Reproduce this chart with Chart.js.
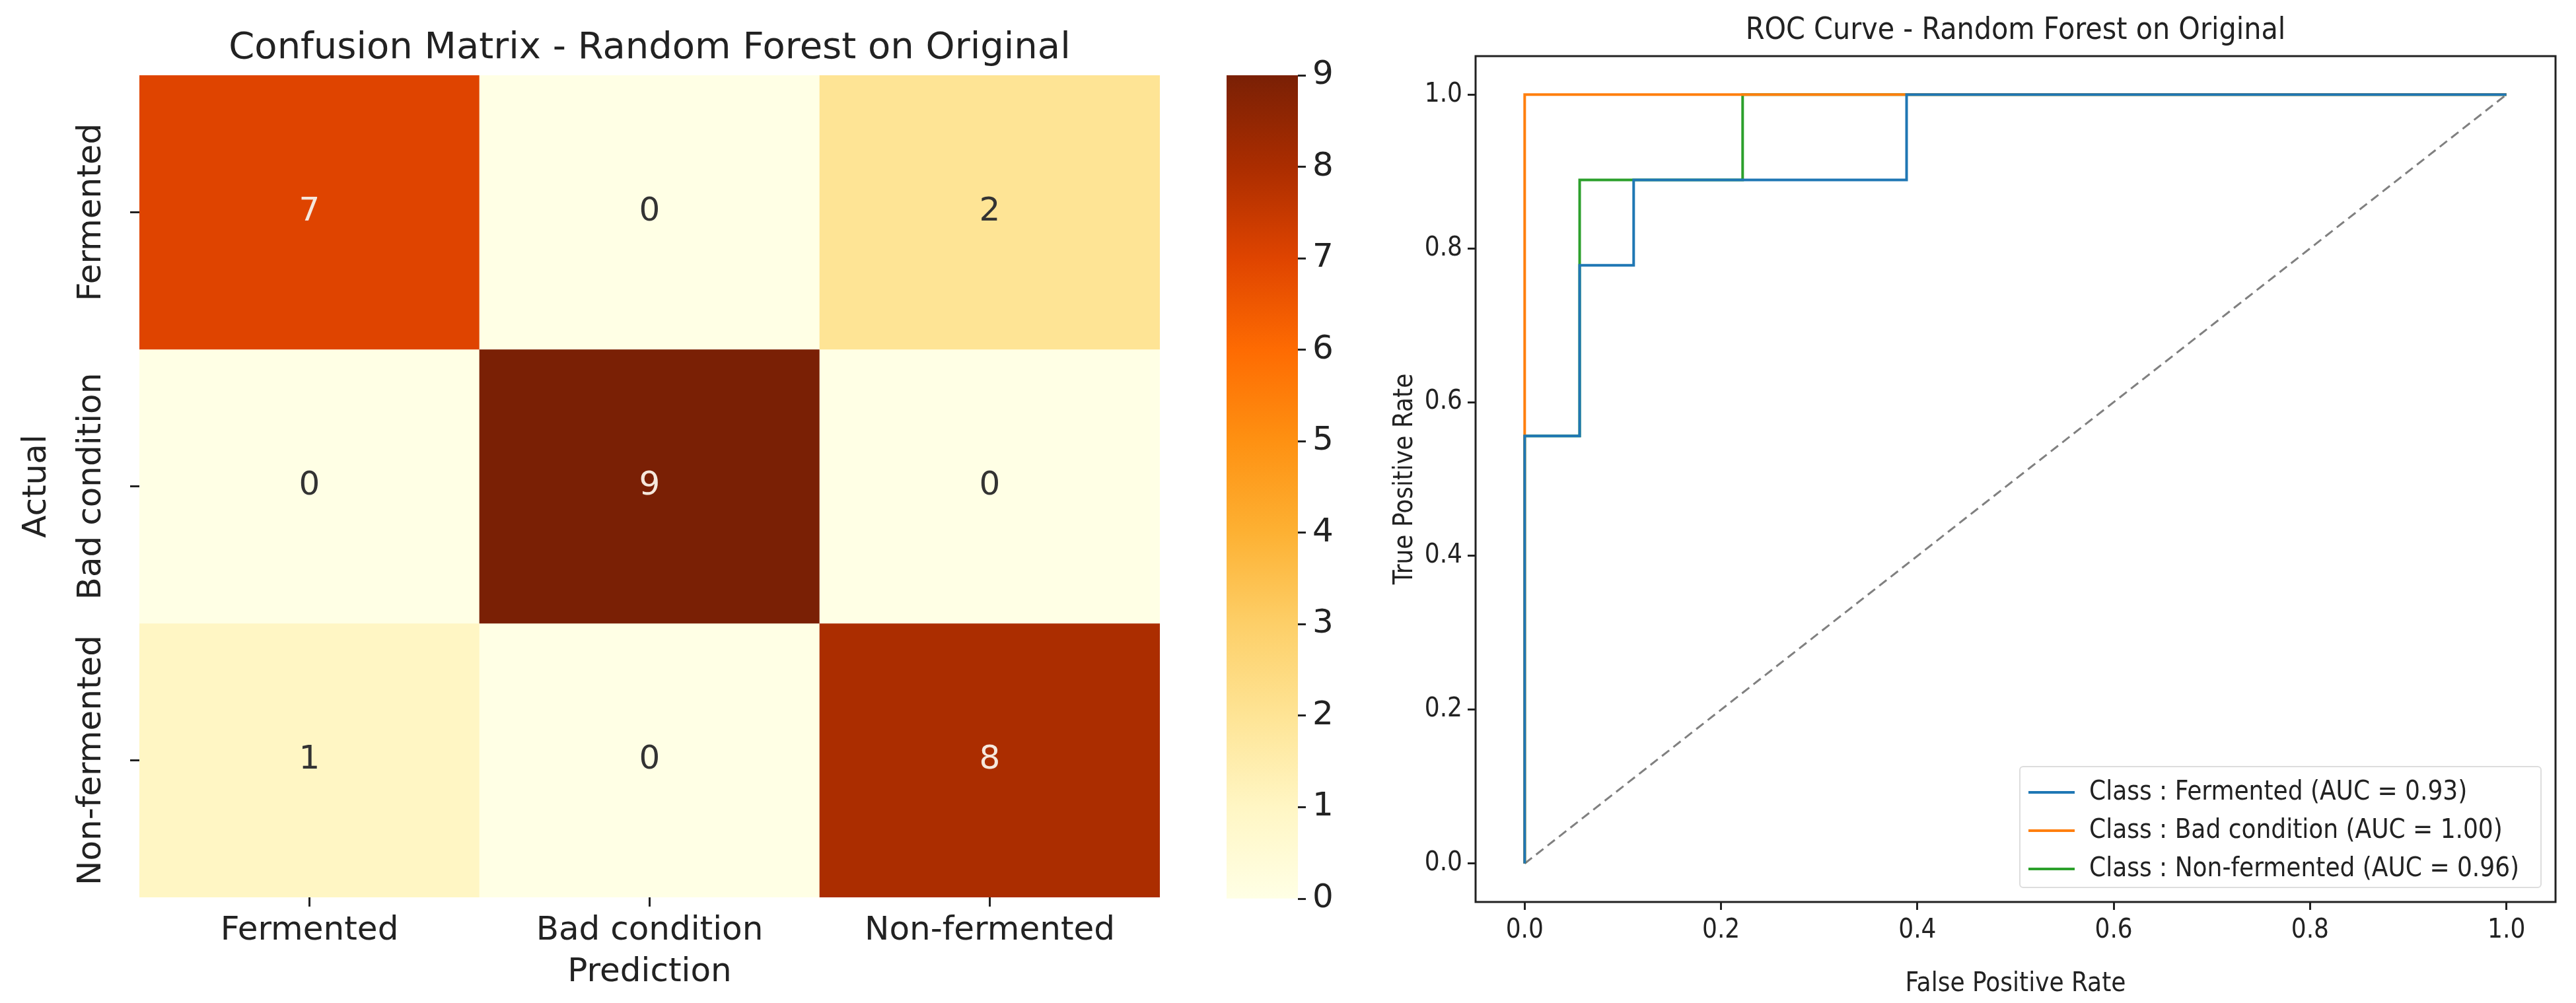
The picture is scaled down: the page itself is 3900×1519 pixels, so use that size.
<!DOCTYPE html>
<html><head><meta charset="utf-8">
<script src="https://cdn.jsdelivr.net/npm/chart.js@4"></script>
<style>
body{margin:0;background:#fff;width:3900px;height:1519px;position:relative;overflow:hidden}
canvas{position:absolute;top:0}
#legend{position:absolute;left:3057px;top:1160px;width:791px;height:185px;border:2px solid #ddd;border-radius:6px;background:rgba(255,255,255,0.9);box-sizing:border-box;font:40px "Liberation Sans Narrow","DejaVu Sans Condensed",sans-serif;color:#222;padding:6px 0 0 12px}
#legend div{height:58px;line-height:58px;white-space:nowrap}
#legend span{display:inline-block;width:70px;height:4px;vertical-align:middle;margin-right:22px}
</style></head><body>
<div id="w1" style="position:absolute;left:0;top:0;width:1800px;height:1519px"><canvas id="hm"></canvas></div>
<div id="w2" style="position:absolute;left:1800px;top:0;width:300px;height:1519px"><canvas id="cb"></canvas></div>
<div id="w3" style="position:absolute;left:2100px;top:0;width:1800px;height:1519px"><canvas id="roc"></canvas></div>
<div id="legend"></div>
<script>
const classLabels = ['Fermented','Bad condition','Non-fermented'];
const confusion = [[7,0,2],[0,9,0],[1,0,8]];
const cbTicks = [0,1,2,3,4,5,6,7,8,9];
const cmapColors = ['#ffffe5','#fff6c4','#fee495','#fdcf68','#fdb133','#fe9112','#fe6b02','#df4400','#ab2d00','#7a2005'];
const rocFermentedX = [0,0,0.056,0.056,0.111,0.111,0.389,0.389,1];
const rocFermentedY = [0,0.556,0.556,0.778,0.778,0.889,0.889,1,1];
const rocBadX = [0,0,1];
const rocBadY = [0,1,1];
const rocNonX = [0,0,0.056,0.056,0.222,0.222,1];
const rocNonY = [0,0.556,0.556,0.889,0.889,1,1];
const rocNames = ['Class : Fermented (AUC = 0.93)','Class : Bad condition (AUC = 1.00)','Class : Non-fermented (AUC = 0.96)'];
const rocColors = ['#1f77b4','#ff7f0e','#2ca02c'];

const DJ = '"DejaVu Sans", sans-serif';
const NAR = '"Liberation Sans Narrow","DejaVu Sans Condensed",sans-serif';
Chart.defaults.animation = false;
Chart.defaults.devicePixelRatio = 1;
Chart.defaults.maintainAspectRatio = false;
Chart.defaults.responsive = true;

// Heatmap
const hmPlugin = {
  id:'hmText',
  afterDraw(c){
    const ctx=c.ctx, xs=c.scales.x, ys=c.scales.y, a=c.chartArea;
    ctx.save();
    ctx.textAlign='center'; ctx.textBaseline='middle';
    ctx.font='50px '+DJ;
    confusion.forEach((row,r)=>row.forEach((v,col)=>{
      ctx.fillStyle = v>=5 ? '#f5e8dd' : '#333';
      ctx.fillText(String(v), xs.getPixelForValue(col), ys.getPixelForValue(r+0.5));
    }));
    ctx.fillStyle='#222'; ctx.strokeStyle='#222'; ctx.lineWidth=3;
    ctx.font='56px '+DJ;
    ctx.fillText('Confusion Matrix - Random Forest on Original',(a.left+a.right)/2,73);
    ctx.font='50px '+DJ;
    classLabels.forEach((l,i)=>{
      const x=xs.getPixelForValue(i);
      ctx.beginPath();ctx.moveTo(x,a.bottom);ctx.lineTo(x,a.bottom+14);ctx.stroke();
      ctx.fillText(l,x,1410);
      const y=ys.getPixelForValue(i+0.5);
      ctx.beginPath();ctx.moveTo(a.left-14,y);ctx.lineTo(a.left,y);ctx.stroke();
      ctx.save();ctx.translate(139,y);ctx.rotate(-Math.PI/2);ctx.fillText(l,0,0);ctx.restore();
    });
    ctx.fillText('Prediction',(a.left+a.right)/2,1473);
    ctx.save();ctx.translate(56,ys.getPixelForValue(1.5));ctx.rotate(-Math.PI/2);ctx.fillText('Actual',0,0);ctx.restore();
    ctx.restore();
  }
};
new Chart(document.getElementById('hm'),{
  type:'bar',
  data:{labels:classLabels,datasets:confusion.map((row,r)=>({
    data:row.map(()=>[r,r+1]),
    backgroundColor:row.map(v=>cmapColors[v]),
    borderWidth:0,barPercentage:1,categoryPercentage:1,grouped:false
  }))},
  options:{
    layout:{padding:{left:211,top:114,right:44,bottom:160}},
    plugins:{legend:{display:false},tooltip:{enabled:false}},
    scales:{
      x:{display:false},
      y:{display:false,min:0,max:3,reverse:true}
    }
  },
  plugins:[hmPlugin]
});

// Colorbar
new Chart(document.getElementById('cb'),{
  type:'bar',
  data:{labels:['c'],datasets:[{
    data:[[0,9]],borderWidth:0,barPercentage:1,categoryPercentage:1,
    backgroundColor(ctx){
      const c=ctx.chart, a=c.chartArea; if(!a) return cmapColors[0];
      const g=c.ctx.createLinearGradient(0,a.bottom,0,a.top);
      cmapColors.forEach((col,i)=>g.addColorStop(i/9,col));
      return g;
    }
  }]},
  options:{
    layout:{padding:{left:57,top:114,bottom:158,right:0}},
    plugins:{legend:{display:false},tooltip:{enabled:false}},
    scales:{
      x:{display:false},
      y:{position:'right',min:0,max:9,
        afterBuildTicks(s){s.ticks=cbTicks.map(v=>({value:v}));},
        afterFit(s){s.width=135;},
        border:{display:false},
        grid:{drawOnChartArea:false,drawTicks:true,tickLength:12,tickWidth:3,color:'#222'},
        ticks:{font:{family:DJ,size:50},color:'#222',padding:10}
      }
    }
  }
});

// ROC
const pts=(xs,ys)=>xs.map((x,i)=>({x,y:ys[i]}));
const rocPlugin={
  id:'rocFrame',
  afterDraw(c){
    const ctx=c.ctx,a=c.chartArea;
    ctx.save();ctx.strokeStyle='#222';ctx.lineWidth=3;
    ctx.strokeRect(a.left,a.top,a.right-a.left,a.bottom-a.top);
    ctx.fillStyle='#222';ctx.font='46px '+NAR;ctx.textAlign='center';ctx.textBaseline='middle';
    ctx.fillText('ROC Curve - Random Forest on Original',(a.left+a.right)/2,47);
    ctx.restore();
  }
};
new Chart(document.getElementById('roc'),{
  type:'line',
  data:{datasets:[
    {data:pts(rocFermentedX,rocFermentedY),borderColor:rocColors[0],borderWidth:4,pointRadius:0,fill:false},
    {data:pts(rocBadX,rocBadY),borderColor:rocColors[1],borderWidth:4,pointRadius:0,fill:false},
    {data:pts(rocNonX,rocNonY),borderColor:rocColors[2],borderWidth:4,pointRadius:0,fill:false},
    {data:pts([0,1],[0,1]),borderColor:'#808080',borderWidth:3,borderDash:[14,8],pointRadius:0,fill:false,order:10}
  ]},
  options:{
    layout:{padding:{left:0,top:85,right:31,bottom:0}},
    plugins:{legend:{display:false},tooltip:{enabled:false}},
    scales:{
      x:{type:'linear',min:-0.05,max:1.05,
        afterBuildTicks(s){s.ticks=[0,0.2,0.4,0.6,0.8,1].map(v=>({value:v}));},
        afterFit(s){s.height=153;},
        grid:{drawOnChartArea:false,tickLength:12,tickWidth:3,color:'#222'},border:{display:false},
        ticks:{font:{family:NAR,size:40},color:'#222',callback:v=>v.toFixed(1),maxRotation:0,padding:8},
        title:{display:true,text:'False Positive Rate',font:{family:NAR,size:40},color:'#222',padding:{top:4}}
      },
      y:{type:'linear',min:-0.05,max:1.05,
        afterBuildTicks(s){s.ticks=[0,0.2,0.4,0.6,0.8,1].map(v=>({value:v}));},
        afterFit(s){s.width=134;},
        grid:{drawOnChartArea:false,tickLength:12,tickWidth:3,color:'#222'},border:{display:false},
        ticks:{font:{family:NAR,size:40},color:'#222',callback:v=>v.toFixed(1),padding:8},
        title:{display:true,text:'True Positive Rate',font:{family:NAR,size:40},color:'#222',padding:{bottom:4}}
      }
    }
  },
  plugins:[rocPlugin]
});
document.getElementById('legend').innerHTML=rocNames.map((n,i)=>`<div><span style="background:${rocColors[i]}"></span>${n}</div>`).join('');
</script>
</body></html>
